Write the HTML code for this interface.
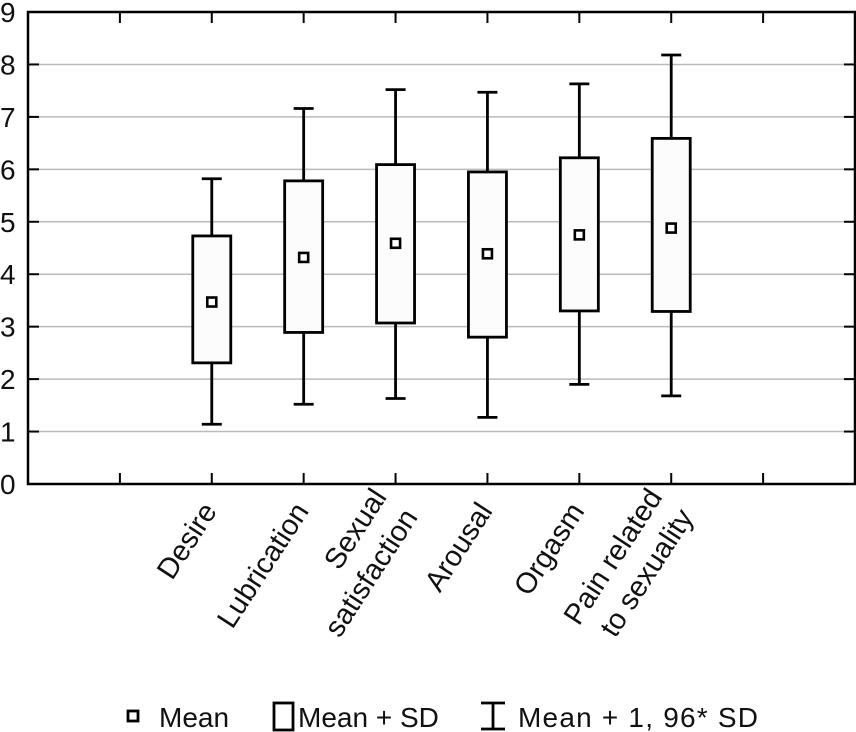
<!DOCTYPE html>
<html><head><meta charset="utf-8"><style>
html,body{margin:0;padding:0;background:#fff;}
svg{display:block;font-family:"Liberation Sans",sans-serif;}
</style></head><body>
<svg id="chart" width="856" height="732" viewBox="0 0 856 732">
<g id="grid"></g>
<g id="axes"></g>
<g id="marks"></g>
<g id="labels"></g>
<g font-size="28" fill="#111">
  <rect x="128" y="711" width="10" height="10" fill="none" stroke="#000" stroke-width="2.8"/>
  <text x="159" y="727">Mean</text>
  <rect x="274" y="703" width="19" height="27" fill="none" stroke="#000" stroke-width="2.8"/>
  <text x="298" y="727">Mean + SD</text>
  <path d="M481 703H505M493 703V729M481 729H505" fill="none" stroke="#000" stroke-width="2.8"/>
  <text x="518" y="727" textLength="240">Mean + 1, 96* SD</text>
</g>
</svg>
<script>
const categories = [["Desire"],["Lubrication"],["Sexual","satisfaction"],["Arousal"],["Orgasm"],["Pain related","to sexuality"]];
const catPositions = [2,3,4,5,6,7];
const means = [3.47,4.32,4.59,4.39,4.75,4.88];
const sdLow = [2.31,2.89,3.07,2.80,3.30,3.29];
const sdHigh = [4.73,5.78,6.09,5.95,6.22,6.59];
const ciLow = [1.14,1.52,1.63,1.27,1.90,1.68];
const ciHigh = [5.82,7.16,7.52,7.47,7.63,8.18];
const yTicks = [0,1,2,3,4,5,6,7,8,9];
const xTicks = [1,2,3,4,5,6,7,8];

const L=28,R=855,T=12,B=484;
const xs=v=>L+(R-L)*v/9;
const ys=v=>B-(B-T)*v/9;
const NS="http://www.w3.org/2000/svg";
function mk(tag,attrs,parent){const e=document.createElementNS(NS,tag);for(const k in attrs)e.setAttribute(k,attrs[k]);parent.appendChild(e);return e;}
const grid=document.getElementById('grid'),axes=document.getElementById('axes'),marks=document.getElementById('marks'),labels=document.getElementById('labels');

yTicks.forEach(v=>{
  const y=ys(v);
  if(v>0&&v<9){
    const g=mk('line',{x1:L,x2:R,y1:y,y2:y,stroke:'#bbb','stroke-width':1.5},grid);
    
    
    const t1=mk('line',{x1:L,x2:L+11,y1:y,y2:y,stroke:'#000','stroke-width':2},axes);
    
    
    const t2=mk('line',{x1:R-11,x2:R,y1:y,y2:y,stroke:'#000','stroke-width':2},axes);
    
    
  }
  const tx=mk('text',{x:0,y:y+10,'font-size':28,fill:'#111'},labels);
  tx.textContent=v;
  
  
});
xTicks.forEach(v=>{
  const x=xs(v);
  const a=mk('line',{x1:x,x2:x,y1:T,y2:T+11,stroke:'#000','stroke-width':2},axes);
  
  
  const b=mk('line',{x1:x,x2:x,y1:B-11,y2:B,stroke:'#000','stroke-width':2},axes);
  
  
});
const frame=mk('rect',{x:L,y:T,width:R-L,height:B-T,fill:'none',stroke:'#000','stroke-width':2.5},axes);



categories.forEach((c,i)=>{
  const x=xs(catPositions[i]);
  const g=mk('g',{},marks);
  
  
  const w=mk('path',{d:`M${x-10} ${ys(ciHigh[i])}H${x+10}M${x} ${ys(ciHigh[i])}V${ys(ciLow[i])}M${x-10} ${ys(ciLow[i])}H${x+10}`,fill:'none',stroke:'#000','stroke-width':2.8},g);
  
  
  const r=mk('rect',{x:x-19,y:ys(sdHigh[i]),width:38,height:ys(sdLow[i])-ys(sdHigh[i]),fill:'#fcfcfc',stroke:'#000','stroke-width':2.8},g);
  
  
  const m=mk('rect',{x:x-4.5,y:ys(means[i])-4.5,width:9,height:9,fill:'#fff',stroke:'#000','stroke-width':2.6},g);
  
  

  const two=c.length>1;
  const t=mk('text',{transform:`translate(${two?x-8:x+6},${two?497:511}) rotate(-57)`,'text-anchor':'end','font-size':29,fill:'#111'},labels);
  
  
  c.forEach((line,j)=>{
    const ts=mk('tspan',{x:0,y:j*37},t);
    ts.textContent=line;
  });
});
</script>
</body></html>
